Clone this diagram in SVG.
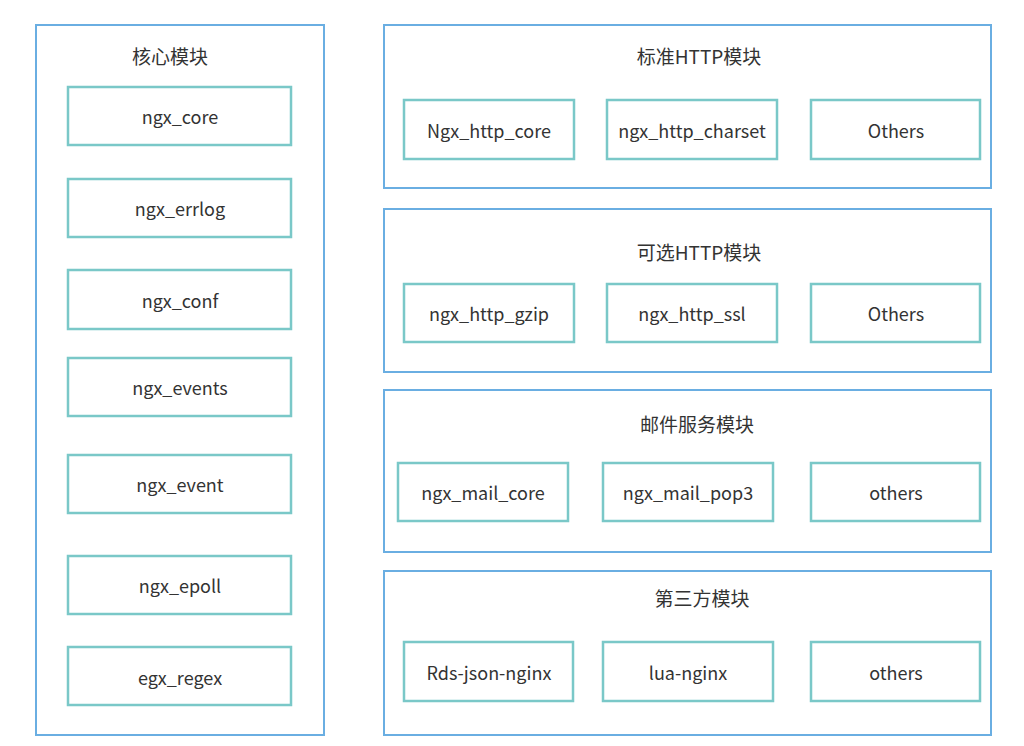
<svg xmlns="http://www.w3.org/2000/svg" width="1024" height="746" viewBox="0 0 1024 746">
<style>
.panel{fill:#fff;stroke:#6aaee2;stroke-width:2}
.box{fill:#fff;stroke:#7ac8c8;stroke-width:2.5}
.t{font-family:"Noto Sans CJK SC","Noto Sans",sans-serif;font-size:18px;fill:#333;text-anchor:middle;dominant-baseline:central}
.h{font-family:"Noto Sans CJK SC","Noto Sans",sans-serif;font-size:19px;fill:#333;text-anchor:middle;dominant-baseline:central}
</style>
<rect width="1024" height="746" fill="#fff"/>
<g id="core">
<rect class="panel" x="36" y="25" width="288" height="710"/>
<text class="h" x="170" y="55">核心模块</text>
</g>
<g id="ngx_core"><rect class="box" x="68" y="87" width="223" height="58"/><text class="t" x="180" y="116">ngx_core</text></g>
<g id="ngx_errlog"><rect class="box" x="68" y="179" width="223" height="58"/><text class="t" x="180" y="208">ngx_errlog</text></g>
<g id="ngx_conf"><rect class="box" x="68" y="270" width="223" height="59"/><text class="t" x="180" y="300">ngx_conf</text></g>
<g id="ngx_events"><rect class="box" x="68" y="358" width="223" height="58"/><text class="t" x="180" y="387">ngx_events</text></g>
<g id="ngx_event"><rect class="box" x="68" y="455" width="223" height="58"/><text class="t" x="180" y="484">ngx_event</text></g>
<g id="ngx_epoll"><rect class="box" x="68" y="556" width="223" height="58"/><text class="t" x="180" y="585">ngx_epoll</text></g>
<g id="egx_regex"><rect class="box" x="68" y="647" width="223" height="58"/><text class="t" x="180" y="677">egx_regex</text></g>

<g id="std_http">
<rect class="panel" x="384" y="25" width="607" height="163"/>
<text class="h" x="699" y="55">标准HTTP模块</text>
</g>
<g id="Ngx_http_core"><rect class="box" x="404" y="100" width="170" height="59"/><text class="t" x="489" y="130">Ngx_http_core</text></g>
<g id="ngx_http_charset"><rect class="box" x="607" y="100" width="170" height="59"/><text class="t" x="692" y="130">ngx_http_charset</text></g>
<g id="Others1"><rect class="box" x="811" y="100" width="169" height="59"/><text class="t" x="896" y="130">Others</text></g>

<g id="opt_http">
<rect class="panel" x="384" y="209" width="607" height="163"/>
<text class="h" x="699" y="251">可选HTTP模块</text>
</g>
<g id="ngx_http_gzip"><rect class="box" x="404" y="284" width="170" height="58"/><text class="t" x="489" y="313">ngx_http_gzip</text></g>
<g id="ngx_http_ssl"><rect class="box" x="607" y="284" width="170" height="58"/><text class="t" x="692" y="313">ngx_http_ssl</text></g>
<g id="Others2"><rect class="box" x="811" y="284" width="169" height="58"/><text class="t" x="896" y="313">Others</text></g>

<g id="mail">
<rect class="panel" x="384" y="390" width="607" height="162"/>
<text class="h" x="697" y="423">邮件服务模块</text>
</g>
<g id="ngx_mail_core"><rect class="box" x="398" y="463" width="170" height="58"/><text class="t" x="483" y="492">ngx_mail_core</text></g>
<g id="ngx_mail_pop3"><rect class="box" x="603" y="463" width="170" height="58"/><text class="t" x="688" y="492">ngx_mail_pop3</text></g>
<g id="others3"><rect class="box" x="811" y="463" width="169" height="58"/><text class="t" x="896" y="492">others</text></g>

<g id="third">
<rect class="panel" x="384" y="571" width="607" height="164"/>
<text class="h" x="702" y="597">第三方模块</text>
</g>
<g id="Rds-json-nginx"><rect class="box" x="404" y="642" width="169" height="59"/><text class="t" x="489" y="672">Rds-json-nginx</text></g>
<g id="lua-nginx"><rect class="box" x="603" y="642" width="170" height="59"/><text class="t" x="688" y="672">lua-nginx</text></g>
<g id="others4"><rect class="box" x="811" y="642" width="169" height="59"/><text class="t" x="896" y="672">others</text></g>
<g id="connectors"/>
</svg>
